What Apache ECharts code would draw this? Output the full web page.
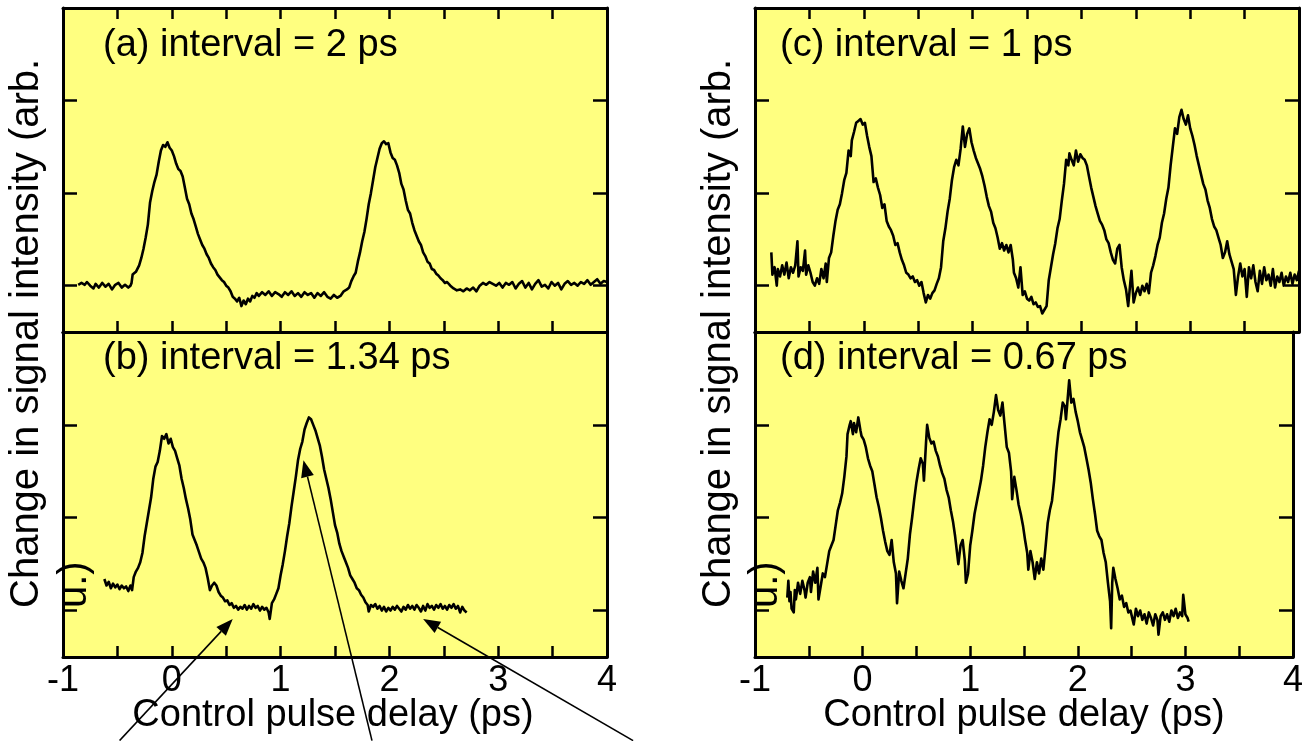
<!DOCTYPE html>
<html>
<head>
<meta charset="utf-8">
<script src="https://cdn.jsdelivr.net/npm/echarts@6/dist/echarts.min.js"></script>
<style>
html,body{margin:0;padding:0;background:#fff;}
#chart{width:1306px;height:741px;}
</style>
</head>
<body>
<div id="chart"></div>
<script>
// ---- data ----
const xTickLabels = [-1, 0, 1, 2, 3, 4];
const yTickValues = [0, 1, 2];
const panelLabels = ['(a) interval = 2 ps', '(b) interval = 1.34 ps', '(c) interval = 1 ps', '(d) interval = 0.67 ps'];
const xTitle = 'Control pulse delay (ps)';
const yTitleLine1 = 'Change in signal intensity (arb.';
const yTitleLine2 = 'u.)';
// arrows in panel (b): [tail, tip] in data units of panel (b)
const arrowTails = [[-0.48, -1.40], [1.84, -1.40], [4.24, -1.40]];
const arrowTips = [[0.56, -0.09], [1.21, 1.62], [2.31, -0.09]];

const panelA = [[-0.86,0.01],[-0.83,0.03],[-0.80,0.01],[-0.78,0.04],[-0.75,0.00],[-0.72,-0.03],[-0.70,0.02],[-0.67,-0.02],[-0.64,0.03],[-0.61,-0.01],[-0.58,0.02],[-0.55,-0.04],[-0.52,0.01],[-0.49,0.03],[-0.46,-0.02],[-0.43,0.01],[-0.40,-0.02],[-0.38,0.00],[-0.37,0.03],[-0.36,0.12],[-0.33,0.15],[-0.30,0.22],[-0.28,0.30],[-0.26,0.40],[-0.24,0.52],[-0.22,0.66],[-0.20,0.90],[-0.18,1.02],[-0.16,1.12],[-0.14,1.20],[-0.12,1.34],[-0.10,1.46],[-0.08,1.52],[-0.06,1.50],[-0.04,1.55],[-0.02,1.49],[0.00,1.46],[0.02,1.40],[0.04,1.32],[0.06,1.26],[0.08,1.24],[0.10,1.18],[0.12,1.06],[0.14,0.94],[0.16,0.88],[0.18,0.78],[0.20,0.72],[0.22,0.64],[0.24,0.56],[0.26,0.50],[0.28,0.44],[0.30,0.40],[0.32,0.34],[0.34,0.30],[0.36,0.24],[0.38,0.20],[0.40,0.17],[0.42,0.12],[0.44,0.09],[0.46,0.06],[0.48,0.04],[0.50,0.00],[0.52,-0.02],[0.54,-0.06],[0.56,-0.12],[0.58,-0.14],[0.60,-0.17],[0.62,-0.13],[0.64,-0.22],[0.66,-0.16],[0.68,-0.20],[0.70,-0.14],[0.72,-0.17],[0.74,-0.11],[0.76,-0.13],[0.78,-0.08],[0.80,-0.11],[0.83,-0.07],[0.86,-0.10],[0.89,-0.06],[0.92,-0.11],[0.95,-0.07],[0.98,-0.09],[1.01,-0.12],[1.04,-0.07],[1.07,-0.10],[1.10,-0.06],[1.13,-0.11],[1.16,-0.08],[1.19,-0.12],[1.22,-0.07],[1.25,-0.10],[1.28,-0.08],[1.31,-0.13],[1.34,-0.08],[1.37,-0.11],[1.40,-0.07],[1.43,-0.12],[1.46,-0.14],[1.49,-0.10],[1.52,-0.13],[1.55,-0.11],[1.58,-0.06],[1.61,-0.04],[1.63,-0.02],[1.65,0.05],[1.67,0.10],[1.69,0.14],[1.71,0.26],[1.73,0.36],[1.75,0.48],[1.77,0.58],[1.79,0.72],[1.81,0.88],[1.83,1.00],[1.85,1.14],[1.87,1.28],[1.89,1.38],[1.91,1.48],[1.93,1.54],[1.95,1.56],[1.97,1.53],[1.99,1.54],[2.01,1.44],[2.03,1.38],[2.05,1.36],[2.07,1.30],[2.09,1.22],[2.11,1.10],[2.13,1.04],[2.15,0.92],[2.17,0.82],[2.19,0.78],[2.21,0.68],[2.23,0.60],[2.25,0.54],[2.27,0.48],[2.29,0.44],[2.31,0.36],[2.33,0.32],[2.35,0.26],[2.37,0.24],[2.39,0.18],[2.41,0.17],[2.43,0.13],[2.45,0.11],[2.47,0.08],[2.49,0.06],[2.51,0.03],[2.53,0.04],[2.56,0.00],[2.59,-0.03],[2.62,-0.05],[2.65,-0.04],[2.68,-0.06],[2.71,-0.03],[2.74,-0.05],[2.77,-0.02],[2.80,-0.06],[2.83,0.00],[2.86,0.03],[2.89,0.01],[2.92,0.04],[2.95,0.02],[2.98,0.00],[3.01,0.03],[3.04,-0.02],[3.07,0.03],[3.10,0.01],[3.13,0.04],[3.16,-0.03],[3.19,0.02],[3.22,0.05],[3.25,-0.02],[3.28,0.03],[3.31,-0.04],[3.34,0.02],[3.37,0.06],[3.40,-0.01],[3.43,0.01],[3.46,-0.03],[3.49,0.04],[3.52,0.00],[3.55,0.03],[3.58,-0.04],[3.61,0.02],[3.64,0.05],[3.67,0.01],[3.70,0.03],[3.73,0.00],[3.76,0.04],[3.79,0.02],[3.82,0.06],[3.85,0.01],[3.88,0.04],[3.91,0.07],[3.94,0.02],[3.97,0.05],[4.00,0.04]];

const panelB = [[-0.62,0.34],[-0.60,0.27],[-0.58,0.31],[-0.56,0.24],[-0.54,0.29],[-0.52,0.25],[-0.50,0.28],[-0.48,0.23],[-0.46,0.27],[-0.44,0.24],[-0.42,0.26],[-0.40,0.21],[-0.38,0.27],[-0.365,0.22],[-0.35,0.36],[-0.33,0.42],[-0.31,0.46],[-0.29,0.52],[-0.27,0.62],[-0.25,0.80],[-0.23,0.94],[-0.21,1.08],[-0.19,1.22],[-0.17,1.42],[-0.15,1.55],[-0.13,1.60],[-0.11,1.72],[-0.09,1.88],[-0.07,1.85],[-0.05,1.90],[-0.03,1.80],[-0.01,1.85],[0.01,1.76],[0.03,1.72],[0.05,1.64],[0.07,1.56],[0.09,1.42],[0.11,1.32],[0.13,1.20],[0.15,1.10],[0.17,0.98],[0.19,0.82],[0.21,0.76],[0.23,0.70],[0.25,0.63],[0.27,0.56],[0.29,0.52],[0.31,0.46],[0.33,0.35],[0.35,0.22],[0.37,0.27],[0.39,0.30],[0.41,0.27],[0.43,0.20],[0.45,0.16],[0.47,0.14],[0.49,0.10],[0.51,0.11],[0.53,0.06],[0.55,0.08],[0.57,0.03],[0.59,0.05],[0.61,0.01],[0.63,0.04],[0.65,0.02],[0.67,0.06],[0.69,0.01],[0.71,0.05],[0.73,0.02],[0.75,0.07],[0.77,0.03],[0.79,0.05],[0.81,0.00],[0.83,0.04],[0.85,0.01],[0.87,0.03],[0.89,-0.02],[0.90,-0.09],[0.92,0.08],[0.94,0.12],[0.96,0.18],[0.98,0.24],[1.00,0.38],[1.02,0.50],[1.04,0.64],[1.06,0.80],[1.08,0.94],[1.10,1.12],[1.12,1.28],[1.14,1.44],[1.16,1.62],[1.18,1.74],[1.20,1.82],[1.22,1.95],[1.24,2.02],[1.26,2.08],[1.28,2.06],[1.30,2.00],[1.32,1.94],[1.34,1.86],[1.36,1.78],[1.38,1.66],[1.40,1.52],[1.42,1.42],[1.44,1.32],[1.46,1.20],[1.48,1.06],[1.50,0.92],[1.52,0.84],[1.54,0.72],[1.56,0.64],[1.58,0.58],[1.60,0.52],[1.62,0.46],[1.64,0.38],[1.66,0.34],[1.68,0.30],[1.70,0.24],[1.72,0.22],[1.74,0.17],[1.76,0.14],[1.78,0.09],[1.80,0.06],[1.81,-0.01],[1.83,0.06],[1.85,0.04],[1.87,0.07],[1.89,0.02],[1.91,0.05],[1.93,0.00],[1.95,0.04],[1.97,-0.01],[1.99,0.03],[2.01,0.00],[2.03,0.04],[2.05,0.01],[2.07,0.05],[2.09,0.02],[2.11,-0.01],[2.13,0.04],[2.15,0.01],[2.17,0.06],[2.19,0.02],[2.21,0.05],[2.23,0.01],[2.25,0.06],[2.27,0.03],[2.29,-0.01],[2.31,0.05],[2.33,0.00],[2.35,0.07],[2.37,0.03],[2.39,0.05],[2.41,0.01],[2.43,0.06],[2.45,0.03],[2.47,0.07],[2.49,0.02],[2.51,0.05],[2.53,0.01],[2.55,0.06],[2.57,0.03],[2.59,0.07],[2.61,0.02],[2.63,0.05],[2.65,-0.02],[2.67,0.04],[2.69,0.00],[2.71,-0.02]];

const panelC = [[-0.85,0.36],[-0.84,0.12],[-0.82,0.20],[-0.80,0.00],[-0.79,0.18],[-0.77,0.10],[-0.75,0.22],[-0.73,0.12],[-0.71,0.25],[-0.69,0.08],[-0.67,0.20],[-0.65,0.14],[-0.63,0.22],[-0.61,0.48],[-0.60,0.10],[-0.58,0.20],[-0.56,0.16],[-0.54,0.38],[-0.53,0.12],[-0.51,0.22],[-0.49,0.14],[-0.47,0.04],[-0.45,0.00],[-0.43,0.08],[-0.41,0.02],[-0.39,0.18],[-0.37,0.08],[-0.35,0.24],[-0.34,0.04],[-0.32,0.30],[-0.30,0.36],[-0.28,0.54],[-0.26,0.70],[-0.24,0.82],[-0.22,0.88],[-0.20,1.00],[-0.18,1.14],[-0.16,1.22],[-0.14,1.46],[-0.12,1.40],[-0.11,1.57],[-0.09,1.66],[-0.07,1.76],[-0.05,1.78],[-0.03,1.80],[-0.01,1.74],[0.01,1.76],[0.03,1.62],[0.05,1.50],[0.07,1.40],[0.09,1.12],[0.11,1.16],[0.13,1.06],[0.15,0.98],[0.17,0.84],[0.19,0.88],[0.21,0.70],[0.23,0.64],[0.25,0.60],[0.27,0.54],[0.29,0.44],[0.31,0.46],[0.33,0.36],[0.35,0.28],[0.37,0.22],[0.39,0.14],[0.41,0.12],[0.43,0.08],[0.45,0.10],[0.47,0.04],[0.49,0.06],[0.51,0.00],[0.53,0.04],[0.55,-0.08],[0.57,-0.18],[0.59,-0.10],[0.61,-0.14],[0.63,-0.08],[0.65,-0.05],[0.67,0.02],[0.69,0.08],[0.71,0.20],[0.73,0.48],[0.75,0.62],[0.77,0.80],[0.79,0.94],[0.81,1.14],[0.83,1.28],[0.85,1.36],[0.87,1.30],[0.89,1.48],[0.91,1.72],[0.93,1.50],[0.95,1.64],[0.97,1.70],[0.99,1.55],[1.01,1.46],[1.03,1.38],[1.05,1.32],[1.07,1.26],[1.09,1.18],[1.11,1.08],[1.13,0.96],[1.15,0.86],[1.17,0.80],[1.19,0.68],[1.21,0.62],[1.23,0.52],[1.25,0.40],[1.27,0.46],[1.29,0.38],[1.31,0.44],[1.33,0.36],[1.35,0.44],[1.37,0.28],[1.38,0.14],[1.40,0.08],[1.42,-0.02],[1.44,0.20],[1.46,-0.10],[1.48,-0.06],[1.50,-0.14],[1.52,-0.16],[1.54,-0.12],[1.56,-0.20],[1.58,-0.18],[1.60,-0.23],[1.62,-0.22],[1.64,-0.30],[1.66,-0.26],[1.68,-0.22],[1.70,0.06],[1.72,0.20],[1.74,0.34],[1.76,0.46],[1.78,0.62],[1.80,0.72],[1.82,0.92],[1.84,1.10],[1.86,1.36],[1.88,1.30],[1.89,1.43],[1.91,1.36],[1.93,1.30],[1.95,1.46],[1.97,1.34],[1.99,1.42],[2.01,1.38],[2.03,1.36],[2.05,1.30],[2.07,1.18],[2.09,1.06],[2.11,0.96],[2.13,0.86],[2.15,0.78],[2.17,0.70],[2.19,0.66],[2.21,0.60],[2.23,0.50],[2.25,0.46],[2.27,0.36],[2.29,0.28],[2.31,0.24],[2.33,0.40],[2.35,0.44],[2.37,0.20],[2.39,0.06],[2.41,-0.04],[2.43,-0.22],[2.45,0.04],[2.46,0.16],[2.48,-0.18],[2.50,-0.08],[2.52,-0.02],[2.54,-0.10],[2.56,0.00],[2.58,-0.06],[2.60,0.02],[2.62,-0.08],[2.64,0.14],[2.66,0.22],[2.68,0.32],[2.70,0.44],[2.72,0.52],[2.74,0.68],[2.76,0.78],[2.78,0.94],[2.80,1.06],[2.82,1.30],[2.84,1.50],[2.86,1.70],[2.88,1.64],[2.90,1.82],[2.92,1.90],[2.94,1.80],[2.96,1.74],[2.98,1.84],[3.00,1.70],[3.02,1.62],[3.04,1.52],[3.06,1.40],[3.08,1.30],[3.10,1.20],[3.12,1.10],[3.14,1.04],[3.16,0.92],[3.18,0.84],[3.20,0.72],[3.22,0.64],[3.24,0.60],[3.26,0.52],[3.28,0.44],[3.30,0.30],[3.32,0.36],[3.34,0.48],[3.36,0.34],[3.38,0.26],[3.40,0.18],[3.42,-0.10],[3.44,0.10],[3.46,0.24],[3.48,0.10],[3.50,0.18],[3.52,-0.12],[3.54,0.20],[3.56,0.08],[3.58,0.22],[3.60,0.04],[3.62,-0.06],[3.64,0.16],[3.66,0.02],[3.68,0.20],[3.70,0.06],[3.72,0.12],[3.74,0.00],[3.76,0.18],[3.78,-0.02],[3.80,0.10],[3.82,0.04],[3.84,0.14],[3.86,0.00],[3.88,0.10],[3.90,0.04],[3.92,0.14],[3.94,0.02],[3.96,0.12],[3.98,0.06],[4.00,0.16]];

const panelD = [[-0.70,0.14],[-0.69,0.32],[-0.68,0.10],[-0.67,0.20],[-0.66,0.02],[-0.64,-0.02],[-0.63,0.22],[-0.62,0.12],[-0.60,0.30],[-0.58,0.18],[-0.56,0.32],[-0.54,0.22],[-0.53,0.14],[-0.51,0.30],[-0.49,0.36],[-0.48,0.20],[-0.46,0.42],[-0.44,0.30],[-0.42,0.46],[-0.41,0.12],[-0.39,0.26],[-0.37,0.40],[-0.35,0.36],[-0.33,0.50],[-0.31,0.64],[-0.29,0.70],[-0.27,0.76],[-0.25,0.92],[-0.23,1.08],[-0.21,1.16],[-0.19,1.26],[-0.17,1.44],[-0.15,1.66],[-0.14,1.90],[-0.12,2.00],[-0.11,2.04],[-0.09,1.90],[-0.08,2.02],[-0.06,1.92],[-0.04,2.08],[-0.02,1.94],[-0.01,1.88],[0.01,1.84],[0.03,1.76],[0.05,1.64],[0.07,1.56],[0.09,1.50],[0.11,1.36],[0.13,1.22],[0.15,1.12],[0.17,1.00],[0.19,0.86],[0.21,0.74],[0.23,0.64],[0.25,0.60],[0.27,0.76],[0.29,0.52],[0.31,0.40],[0.32,0.08],[0.34,0.42],[0.36,0.32],[0.38,0.24],[0.40,0.40],[0.42,0.56],[0.44,0.82],[0.46,1.00],[0.48,1.20],[0.50,1.38],[0.52,1.52],[0.54,1.64],[0.56,1.58],[0.57,1.40],[0.59,1.82],[0.60,2.00],[0.62,1.86],[0.64,1.80],[0.66,1.82],[0.68,1.72],[0.70,1.66],[0.72,1.56],[0.74,1.48],[0.76,1.42],[0.78,1.30],[0.80,1.22],[0.82,1.08],[0.84,0.96],[0.86,0.80],[0.88,0.60],[0.89,0.50],[0.91,0.70],[0.93,0.76],[0.95,0.54],[0.96,0.30],[0.98,0.40],[1.00,0.70],[1.02,0.86],[1.04,1.04],[1.06,1.16],[1.08,1.28],[1.10,1.40],[1.12,1.56],[1.14,1.76],[1.16,1.92],[1.18,2.06],[1.20,2.00],[1.22,2.14],[1.24,2.32],[1.26,2.16],[1.28,2.10],[1.30,2.24],[1.32,2.00],[1.34,1.76],[1.36,1.70],[1.38,1.50],[1.39,1.20],[1.41,1.44],[1.43,1.30],[1.45,1.14],[1.47,1.04],[1.49,0.92],[1.51,0.76],[1.53,0.62],[1.54,0.44],[1.56,0.64],[1.58,0.52],[1.60,0.34],[1.62,0.52],[1.64,0.40],[1.66,0.56],[1.68,0.44],[1.70,0.68],[1.72,0.94],[1.74,1.08],[1.76,1.18],[1.78,1.40],[1.80,1.70],[1.82,1.92],[1.84,2.06],[1.86,2.24],[1.88,2.20],[1.89,2.06],[1.91,2.34],[1.92,2.48],[1.94,2.24],[1.96,2.28],[1.98,2.14],[2.00,2.04],[2.02,1.92],[2.04,1.84],[2.06,1.76],[2.08,1.64],[2.10,1.52],[2.12,1.38],[2.14,1.20],[2.16,1.04],[2.18,0.86],[2.20,0.80],[2.22,0.76],[2.24,0.62],[2.26,0.52],[2.28,0.30],[2.30,0.10],[2.31,-0.19],[2.32,0.30],[2.33,0.46],[2.35,0.34],[2.37,0.24],[2.39,0.12],[2.41,0.16],[2.43,0.04],[2.45,0.08],[2.47,-0.02],[2.49,0.00],[2.51,-0.10],[2.52,-0.15],[2.54,0.02],[2.56,-0.06],[2.58,0.00],[2.60,-0.10],[2.62,-0.04],[2.64,-0.14],[2.66,-0.02],[2.68,-0.08],[2.70,-0.16],[2.72,-0.04],[2.74,-0.10],[2.75,-0.26],[2.77,-0.06],[2.79,-0.02],[2.81,-0.10],[2.83,-0.04],[2.85,-0.12],[2.87,0.00],[2.89,-0.06],[2.91,0.02],[2.93,-0.08],[2.95,-0.02],[2.97,-0.06],[2.98,0.17],[3.00,-0.04],[3.02,-0.08],[3.03,-0.12]];

const panels = [panelA, panelB, panelC, panelD];

// ---- layout ----
const FONT = '"Liberation Sans", Arial, Helvetica, sans-serif';
const YELLOW = '#FFFF80';
const grids = [
  {left: 63, top: 8, width: 544, height: 324},
  {left: 63, top: 332, width: 544, height: 325},
  {left: 755, top: 8, width: 544, height: 324},
  {left: 755, top: 332, width: 544, height: 325}
];
const isBottom = [false, true, false, true];

const axisLineStyle = {color: '#000', width: 3};
const tickStyle = {color: '#000', width: 2.5};
const xAxes = [], yAxes = [], series = [];
grids.forEach((g, i) => {
  xAxes.push({
    type: 'value', gridIndex: i, position: 'bottom', min: -1, max: 4, interval: 0.5,
    axisLine: {show: true, onZero: false, lineStyle: axisLineStyle},
    axisTick: {show: true, inside: true, length: 11, lineStyle: tickStyle},
    axisLabel: {show: isBottom[i], customValues: xTickLabels, margin: 6,
      color: '#000', fontSize: 36, fontFamily: FONT},
    splitLine: {show: false}
  });
  xAxes.push({
    type: 'value', gridIndex: i, position: 'top', min: -1, max: 4, interval: 0.5,
    axisLine: {show: true, onZero: false, lineStyle: axisLineStyle},
    axisTick: {show: !isBottom[i], inside: true, length: 11, lineStyle: tickStyle},
    axisLabel: {show: false}, splitLine: {show: false}
  });
  yAxes.push({
    type: 'value', gridIndex: i, position: 'left', min: -0.5, max: 3, interval: 0.5,
    axisLine: {show: true, onZero: false, lineStyle: axisLineStyle},
    axisTick: {show: true, inside: true, length: 14, customValues: yTickValues, lineStyle: tickStyle},
    axisLabel: {show: false}, splitLine: {show: false}
  });
  yAxes.push({
    type: 'value', gridIndex: i, position: 'right', min: -0.5, max: 3, interval: 0.5,
    axisLine: {show: true, onZero: false, lineStyle: axisLineStyle},
    axisTick: {show: true, inside: true, length: 14, customValues: yTickValues, lineStyle: tickStyle},
    axisLabel: {show: false}, splitLine: {show: false}
  });
  series.push({
    type: 'line', xAxisIndex: 2 * i, yAxisIndex: 2 * i, data: panels[i],
    showSymbol: false, symbol: 'none', clip: true, silent: true,
    lineStyle: {color: '#000', width: 2.6, join: 'round'}, z: 3
  });
});

function txt(text, x, y, size, opts) {
  return Object.assign({
    type: 'text', x: x, y: y, z: 20, silent: true,
    style: Object.assign({text: text, fill: '#000', font: size + 'px ' + FONT,
      textAlign: 'left', textVerticalAlign: 'middle'}, (opts && opts.style) || {})
  }, opts && opts.rotation !== undefined ? {rotation: opts.rotation} : {});
}

const graphics = [
  txt(panelLabels[0], 103, 46, 38),
  txt(panelLabels[1], 103, 359, 38),
  txt(panelLabels[2], 780, 46, 38),
  txt(panelLabels[3], 780, 359, 38),
  txt(xTitle, 333, 716, 38, {style: {textAlign: 'center'}}),
  txt(xTitle, 1024, 716, 38, {style: {textAlign: 'center'}}),
  txt(yTitleLine1, 27, 608, 40, {rotation: Math.PI / 2}),
  txt(yTitleLine2, 75, 608, 40, {rotation: Math.PI / 2}),
  txt(yTitleLine1, 719, 608, 40, {rotation: Math.PI / 2}),
  txt(yTitleLine2, 766, 608, 40, {rotation: Math.PI / 2})
];

const chart = echarts.init(document.getElementById('chart'), null, {renderer: 'canvas'});
chart.setOption({
  animation: false,
  backgroundColor: '#fff',
  grid: grids.map(g => Object.assign({show: true, backgroundColor: YELLOW, borderWidth: 0, containLabel: false}, g)),
  xAxis: xAxes,
  yAxis: yAxes,
  series: series,
  graphic: graphics
});

// arrows (annotation) placed through panel (b)'s scales
const arrowEls = [];
arrowTails.forEach((t, k) => {
  const p0 = chart.convertToPixel({xAxisIndex: 2, yAxisIndex: 2}, t);
  const p1 = chart.convertToPixel({xAxisIndex: 2, yAxisIndex: 2}, arrowTips[k]);
  const dx = p1[0] - p0[0], dy = p1[1] - p0[1];
  const len = Math.sqrt(dx * dx + dy * dy);
  const ux = dx / len, uy = dy / len;
  const hl = 17, hw = 6.5;
  const bx = p1[0] - ux * hl, by = p1[1] - uy * hl;
  arrowEls.push({
    type: 'line', z: 25, silent: true,
    shape: {x1: p0[0], y1: p0[1], x2: bx, y2: by},
    style: {stroke: '#000', lineWidth: 1.6}
  });
  arrowEls.push({
    type: 'polygon', z: 25, silent: true,
    shape: {points: [[p1[0], p1[1]], [bx - uy * hw, by + ux * hw], [bx + uy * hw, by - ux * hw]]},
    style: {fill: '#000'}
  });
});
chart.setOption({graphic: graphics.concat(arrowEls)});
</script>
</body>
</html>
